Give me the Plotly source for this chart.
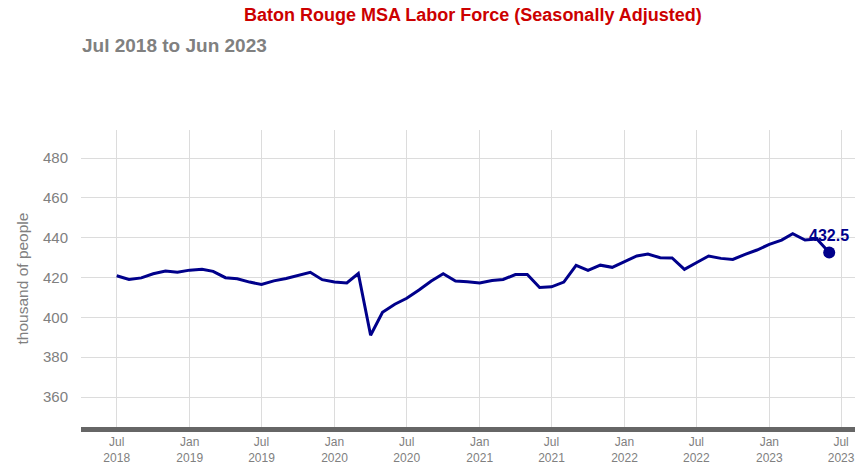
import plotly.graph_objects as go
import pandas as pd

months = pd.date_range("2018-07-01", "2023-06-01", freq="MS").strftime("%Y-%m-%d").tolist()
labor_force = [
    420.9, 419.0, 419.8, 421.9, 423.2, 422.6,
    423.7, 424.1, 423.1, 419.9, 419.4, 417.7, 416.5, 418.3, 419.5, 420.9, 422.6, 418.9,
    417.7, 417.3, 422.0, 391.0, 402.5, 406.6, 409.6, 413.7, 418.2, 421.9, 418.2, 417.9,
    417.3, 418.5, 419.0, 421.5, 421.5, 415.0, 415.3, 417.7, 426.1, 423.6, 426.2, 425.1,
    427.9, 430.8, 431.8, 429.9, 429.8, 424.1, 427.4, 430.8, 429.6, 429.1, 431.6, 433.8,
    436.6, 438.8, 442.0, 438.8, 439.3, 432.5,
]
tick_vals = ["2018-07-01", "2019-01-01", "2019-07-01", "2020-01-01", "2020-07-01", "2021-01-01",
             "2021-07-01", "2022-01-01", "2022-07-01", "2023-01-01", "2023-07-01"]
tick_text = ["Jul<br>2018", "Jan<br>2019", "Jul<br>2019", "Jan<br>2020", "Jul<br>2020", "Jan<br>2021",
             "Jul<br>2021", "Jan<br>2022", "Jul<br>2022", "Jan<br>2023", "Jul<br>2023"]
y_ticks = [360, 380, 400, 420, 440, 460, 480]

navy = "#00008B"
FONT = "Liberation Sans, Arial"
PLOT_TOP, PLOT_BOTTOM, PLOT_LEFT = 130, 427, 81
PH = PLOT_BOTTOM - PLOT_TOP
PW = 855 - PLOT_LEFT

def py(pix):
    return (PLOT_BOTTOM - pix) / PH

def px(pix):
    return (pix - PLOT_LEFT) / PW

fig = go.Figure()
fig.add_trace(go.Scatter(x=months, y=labor_force, mode="lines",
                         line=dict(color=navy, width=3), hoverinfo="x+y"))
fig.add_trace(go.Scatter(x=[months[-1]], y=[labor_force[-1]], mode="markers",
                         marker=dict(color=navy, size=12), cliponaxis=False))
fig.add_annotation(x=months[-1], y=labor_force[-1], text=f"<b>{labor_force[-1]}</b>",
                   showarrow=False, yshift=17, xshift=0,
                   font=dict(color=navy, size=16, family=FONT))
fig.add_annotation(text="<b>Baton Rouge MSA Labor Force (Seasonally Adjusted)</b>",
                   xref="paper", yref="paper", x=px(473), xanchor="center",
                   y=py(15), yanchor="middle", showarrow=False,
                   font=dict(size=18, color="#CC0000", family=FONT))
fig.add_annotation(text="<b>Jul 2018 to Jun 2023</b>", xref="paper", yref="paper",
                   x=px(80), xanchor="left", y=py(45), yanchor="middle",
                   showarrow=False, font=dict(size=19, color="#808080", family=FONT))

fig.update_layout(
    width=855, height=468,
    margin=dict(l=PLOT_LEFT, r=0, t=PLOT_TOP, b=468 - PLOT_BOTTOM, autoexpand=False),
    paper_bgcolor="white", plot_bgcolor="white",
    showlegend=False,
    font=dict(family=FONT, color="#808080"),
)

fig.update_xaxes(
    type="date", range=["2018-04-02", "2023-08-05"],
    tickvals=tick_vals, ticktext=tick_text, automargin=False,
    showgrid=True, gridcolor="#dcdcdc", gridwidth=1,
    showline=True, linecolor="#666666", linewidth=5,
    ticks="", tickfont=dict(size=12, color="#808080"),
    zeroline=False,
)
fig.update_yaxes(
    range=[344.94, 494.06], tickvals=y_ticks, automargin=False,
    showgrid=True, gridcolor="#dcdcdc", gridwidth=1,
    showline=False, zeroline=False, ticks="", ticklen=0, ticklabelstandoff=12,
    tickfont=dict(size=15, color="#808080"),
    title=dict(text="thousand of people", font=dict(size=15.5, color="#808080"), standoff=10),
)

fig.write_html("out.html", post_script="document.body.style.margin='0';",
               config={"displayModeBar": False})
